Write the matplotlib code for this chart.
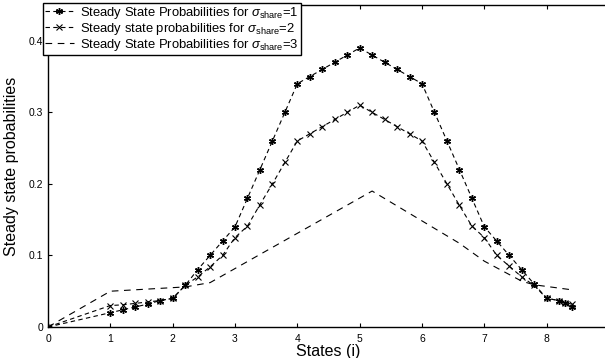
import numpy as np
import matplotlib.pyplot as plt

plt.rcParams['font.family'] = ['Liberation Sans', 'DejaVu Sans']
plt.rcParams['mathtext.fontset'] = 'custom'
plt.rcParams['mathtext.rm'] = 'Liberation Sans'
plt.rcParams['mathtext.it'] = 'Liberation Sans:italic'

# etats echantillonnes
etats = [0, 1.0, 1.2, 1.4, 1.6, 1.8, 2.0, 2.2, 2.4, 2.6, 2.8, 3.0, 3.2, 3.4, 3.6, 3.8,
         4.0, 4.2, 4.4, 4.6, 4.8, 5.0, 5.2, 5.4, 5.6, 5.8, 6.0, 6.2, 6.4, 6.6, 6.8,
         7.0, 7.2, 7.4, 7.6, 7.8, 8.0, 8.2, 8.3, 8.4]

prob_share1 = [0, 0.020, 0.024, 0.028, 0.032, 0.037, 0.040, 0.058, 0.080, 0.100, 0.120,
               0.140, 0.180, 0.220, 0.260, 0.300, 0.340, 0.350, 0.360, 0.370, 0.380,
               0.390, 0.380, 0.370, 0.360, 0.350, 0.340, 0.300, 0.260, 0.220, 0.180,
               0.140, 0.120, 0.100, 0.080, 0.060, 0.040, 0.037, 0.033, 0.028]

prob_share2 = [0, 0.030, 0.031, 0.033, 0.035, 0.037, 0.040, 0.058, 0.070, 0.084, 0.100,
               0.125, 0.141, 0.171, 0.200, 0.230, 0.260, 0.270, 0.280, 0.290, 0.300,
               0.310, 0.300, 0.290, 0.280, 0.270, 0.260, 0.230, 0.200, 0.170, 0.141,
               0.125, 0.100, 0.085, 0.070, 0.058, 0.040, 0.037, 0.034, 0.032]

etats3 = [0, 1.0, 2.2, 2.6, 5.2, 6.6, 7.0, 7.6, 7.8, 8.4]
prob_share3 = [0, 0.050, 0.056, 0.062, 0.190, 0.117, 0.092, 0.064, 0.059, 0.052]

fig = plt.figure(figsize=(6.05, 3.58), dpi=100)
ax = fig.add_axes([48 / 605, 31 / 358, 561 / 605, 322 / 358])

l1, = ax.plot(etats, prob_share1, '--', color='black', lw=0.8, marker=(6, 2, 0),
              markersize=5, markeredgewidth=1.0, dashes=(4, 3),
              label=r'Steady State Probabilities for $\sigma_{\mathrm{share}}$=1')
l2, = ax.plot(etats, prob_share2, '--', color='black', lw=0.8, marker='x',
              markersize=4, markeredgewidth=0.8, dashes=(4, 3),
              label=r'Steady state probabilities for $\sigma_{\mathrm{share}}$=2')
l3, = ax.plot(etats3, prob_share3, '--', color='black', lw=0.8, dashes=(6, 5),
              label=r'Steady State Probabilities for $\sigma_{\mathrm{share}}$=3')

ax.set_xlim(0, 9)
ax.set_ylim(0, 0.45)
ax.set_xticks(range(0, 9))
ax.set_yticks([0, 0.1, 0.2, 0.3, 0.4])
ax.set_yticklabels(['0', '0.1', '0.2', '0.3', '0.4'])
ax.tick_params(direction='in', top=True, right=True, labelsize=7.5, length=3, width=0.8)
ax.tick_params(axis='x', pad=5)
for s in ax.spines.values():
    s.set_linewidth(1.0)

ax.set_xlabel('States (i)', fontsize=11.5, labelpad=0)
ax.set_ylabel('Steady state probabilities', fontsize=11.5, labelpad=7)

leg = fig.legend(handles=[l1, l2, l3], loc='upper left',
                 bbox_to_anchor=(43 / 605, 1 - 3 / 358), fontsize=9.4,
                 fancybox=False, framealpha=1, edgecolor='black',
                 handlelength=2.2, handletextpad=0.5, borderpad=0.15,
                 labelspacing=0.0, borderaxespad=0)
leg.get_frame().set_linewidth(1.0)

fig.savefig('out.png', dpi=100)
